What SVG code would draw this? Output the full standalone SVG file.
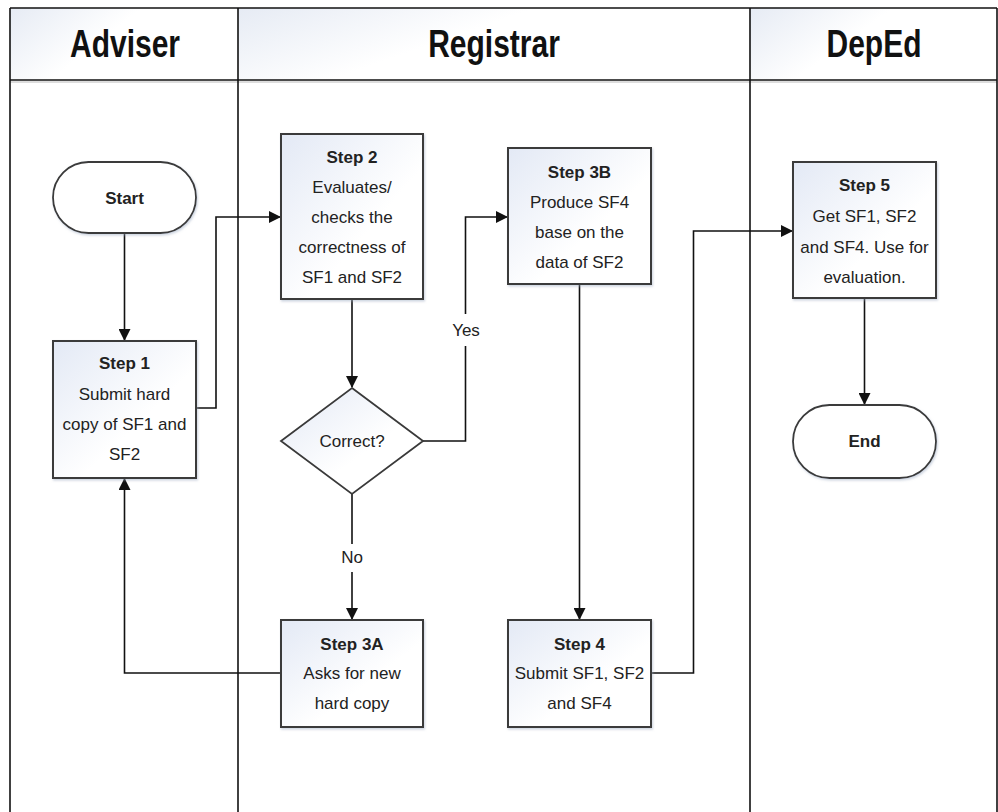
<svg xmlns="http://www.w3.org/2000/svg" width="998" height="812" viewBox="0 0 998 812">
<style>
  .lane { fill: none; stroke: #111; stroke-width: 1.6; }
  .box { fill: url(#boxg); stroke: #3a3a3a; stroke-width: 2; filter: url(#sh); }
  .term { fill: #fff; stroke: #3a3a3a; stroke-width: 1.8; filter: url(#sh); }
  .hdr { font-family: "Liberation Sans", Arial, sans-serif; font-size: 30px; font-weight: bold; fill: #111; text-anchor: middle; }
  .t { font-family: "Liberation Sans", Arial, sans-serif; font-size: 17px; fill: #222; text-anchor: middle; }
  .b { font-weight: bold; }
  .conn { fill: none; stroke: #111; stroke-width: 1.6; }
  .lbl { font-family: "Liberation Sans", Arial, sans-serif; font-size: 17px; fill: #222; text-anchor: middle; }
</style>
<defs>
  <linearGradient id="boxg" x1="0" y1="0" x2="1" y2="1">
    <stop offset="0" stop-color="#e3e9f5"/>
    <stop offset="0.6" stop-color="#ffffff"/>
  </linearGradient>
  <linearGradient id="hdrg" x1="0" y1="0" x2="1" y2="0.4">
    <stop offset="0" stop-color="#e6ebf4"/>
    <stop offset="0.5" stop-color="#ffffff"/>
  </linearGradient>
  <filter id="sh" x="-10%" y="-10%" width="125%" height="125%">
    <feDropShadow dx="1" dy="1.5" stdDeviation="1.2" flood-color="#9aa8c0" flood-opacity="0.5"/>
  </filter>
  <marker id="arr" markerWidth="12" markerHeight="12" refX="11" refY="6" orient="auto" markerUnits="userSpaceOnUse">
    <path d="M0,0 L12,6 L0,12 Z" fill="#111"/>
  </marker>
</defs>
<rect width="998" height="812" fill="#fff"/>

<g id="lanes">
  <rect x="10" y="8" width="228" height="72" fill="url(#hdrg)"/>
  <rect x="238" y="8" width="512" height="72" fill="url(#hdrg)"/>
  <rect x="750" y="8" width="247" height="72" fill="url(#hdrg)"/>
  <line x1="10" y1="8" x2="997" y2="8" class="lane"/>
  <line x1="10" y1="80" x2="997" y2="80" class="lane" stroke-width="2.2"/>
  <line x1="10" y1="82" x2="997" y2="82" stroke="#bbb" stroke-width="1"/>
  <line x1="10" y1="8" x2="10" y2="812" class="lane"/>
  <line x1="238" y1="8" x2="238" y2="812" class="lane"/>
  <line x1="750" y1="8" x2="750" y2="812" class="lane"/>
  <line x1="997" y1="8" x2="997" y2="812" class="lane"/>
  <g transform="scale(1,1.3)">
    <text x="125" y="44" class="hdr">Adviser</text>
    <text x="494" y="44" class="hdr">Registrar</text>
    <text x="874" y="44" class="hdr">DepEd</text>
  </g>
</g>

<g id="connectors">
  <line x1="124.5" y1="233" x2="124.5" y2="340" class="conn" marker-end="url(#arr)"/>
  <polyline points="196,408 216,408 216,217 280,217" class="conn" marker-end="url(#arr)"/>
  <line x1="352" y1="299" x2="352" y2="387" class="conn" marker-end="url(#arr)"/>
  <polyline points="423,441 465.5,441 465.5,346" class="conn"/>
  <polyline points="465.5,314 465.5,217 507,217" class="conn" marker-end="url(#arr)"/>
  <text x="466" y="336" class="lbl">Yes</text>
  <line x1="352" y1="494" x2="352" y2="544" class="conn"/>
  <line x1="352" y1="572" x2="352" y2="619" class="conn" marker-end="url(#arr)"/>
  <text x="352" y="563" class="lbl">No</text>
  <polyline points="281,673 124.5,673 124.5,479" class="conn" marker-end="url(#arr)"/>
  <line x1="579.5" y1="284" x2="579.5" y2="619" class="conn" marker-end="url(#arr)"/>
  <polyline points="651,673 693.5,673 693.5,231 792,231" class="conn" marker-end="url(#arr)"/>
  <line x1="864.5" y1="298" x2="864.5" y2="404" class="conn" marker-end="url(#arr)"/>
</g>

<g id="start">
  <rect x="53" y="162" width="143" height="71" rx="35.5" class="term"/>
  <text x="124.5" y="204" class="t b">Start</text>
</g>

<g id="step1">
  <rect x="53" y="341" width="143" height="137" class="box"/>
  <text x="124.5" y="369" class="t b">Step 1</text>
  <text x="124.5" y="400" class="t">Submit hard</text>
  <text x="124.5" y="430" class="t">copy of SF1 and</text>
  <text x="124.5" y="460" class="t">SF2</text>
</g>

<g id="step2">
  <rect x="281" y="134" width="142" height="165" class="box"/>
  <text x="352" y="163" class="t b">Step 2</text>
  <text x="352" y="193" class="t">Evaluates/</text>
  <text x="352" y="223" class="t">checks the</text>
  <text x="352" y="253" class="t">correctness of</text>
  <text x="352" y="283" class="t">SF1 and SF2</text>
</g>

<g id="decision">
  <polygon points="352,388 423,441 352,494 281,441" fill="url(#boxg)" stroke="#3a3a3a" stroke-width="1.8"/>
  <text x="352" y="447" class="t">Correct?</text>
</g>

<g id="step3b">
  <rect x="508" y="148" width="143" height="136" class="box"/>
  <text x="579.5" y="178" class="t b">Step 3B</text>
  <text x="579.5" y="208" class="t">Produce SF4</text>
  <text x="579.5" y="238" class="t">base on the</text>
  <text x="579.5" y="268" class="t">data of SF2</text>
</g>

<g id="step3a">
  <rect x="281" y="620" width="142" height="107" class="box"/>
  <text x="352" y="650" class="t b">Step 3A</text>
  <text x="352" y="679" class="t">Asks for new</text>
  <text x="352" y="709" class="t">hard copy</text>
</g>

<g id="step4">
  <rect x="508" y="620" width="143" height="107" class="box"/>
  <text x="579.5" y="650" class="t b">Step 4</text>
  <text x="579.5" y="679" class="t">Submit SF1, SF2</text>
  <text x="579.5" y="709" class="t">and SF4</text>
</g>

<g id="step5">
  <rect x="793" y="162" width="143" height="136" class="box"/>
  <text x="864.5" y="191" class="t b">Step 5</text>
  <text x="864.5" y="222" class="t">Get SF1, SF2</text>
  <text x="864.5" y="253" class="t">and SF4. Use for</text>
  <text x="864.5" y="283" class="t">evaluation.</text>
</g>

<g id="end">
  <rect x="793" y="405" width="143" height="73" rx="36.5" class="term"/>
  <text x="864.5" y="447" class="t b">End</text>
</g>
</svg>
